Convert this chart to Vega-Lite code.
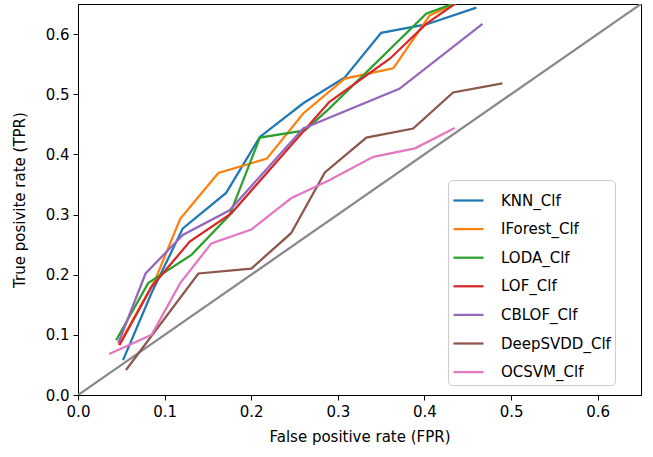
{
  "$schema": "https://vega.github.io/schema/vega-lite/v6.json",
  "autosize": {"type": "none"},
  "padding": {"left": 78, "top": 4, "right": 12, "bottom": 62},
  "width": 563,
  "height": 391,
  "background": "white",
  "config": {
    "font": "DejaVu Sans",
    "view": {"stroke": "black", "strokeWidth": 1},
    "axis": {
      "grid": false,
      "domainColor": "black",
      "tickColor": "black",
      "tickSize": 5,
      "labelFont": "DejaVu Sans",
      "labelFontSize": 15,
      "labelColor": "black",
      "labelPadding": 4,
      "labelFlush": false,
      "titleFont": "DejaVu Sans",
      "titleFontSize": 15,
      "titleFontWeight": "normal",
      "titleColor": "black"
    },
    "legend": {
      "labelFont": "DejaVu Sans",
      "labelFontSize": 15,
      "labelColor": "black"
    }
  },
  "datasets": {
    "roc": [
      {"model": "KNN_Clf", "i": 0, "fpr": 0.052, "tpr": 0.058},
      {"model": "KNN_Clf", "i": 1, "fpr": 0.085, "tpr": 0.17},
      {"model": "KNN_Clf", "i": 2, "fpr": 0.121, "tpr": 0.277},
      {"model": "KNN_Clf", "i": 3, "fpr": 0.171, "tpr": 0.336},
      {"model": "KNN_Clf", "i": 4, "fpr": 0.21, "tpr": 0.429},
      {"model": "KNN_Clf", "i": 5, "fpr": 0.26, "tpr": 0.485},
      {"model": "KNN_Clf", "i": 6, "fpr": 0.308, "tpr": 0.528},
      {"model": "KNN_Clf", "i": 7, "fpr": 0.35, "tpr": 0.602},
      {"model": "KNN_Clf", "i": 8, "fpr": 0.402, "tpr": 0.616},
      {"model": "KNN_Clf", "i": 9, "fpr": 0.46, "tpr": 0.644},

      {"model": "IForest_Clf", "i": 0, "fpr": 0.047, "tpr": 0.083},
      {"model": "IForest_Clf", "i": 1, "fpr": 0.089, "tpr": 0.191},
      {"model": "IForest_Clf", "i": 2, "fpr": 0.118, "tpr": 0.293},
      {"model": "IForest_Clf", "i": 3, "fpr": 0.162, "tpr": 0.369},
      {"model": "IForest_Clf", "i": 4, "fpr": 0.218, "tpr": 0.393},
      {"model": "IForest_Clf", "i": 5, "fpr": 0.26, "tpr": 0.468},
      {"model": "IForest_Clf", "i": 6, "fpr": 0.308, "tpr": 0.526},
      {"model": "IForest_Clf", "i": 7, "fpr": 0.364, "tpr": 0.543},
      {"model": "IForest_Clf", "i": 8, "fpr": 0.406, "tpr": 0.631},
      {"model": "IForest_Clf", "i": 9, "fpr": 0.45, "tpr": 0.66},

      {"model": "LODA_Clf", "i": 0, "fpr": 0.044, "tpr": 0.091},
      {"model": "LODA_Clf", "i": 1, "fpr": 0.081, "tpr": 0.186},
      {"model": "LODA_Clf", "i": 2, "fpr": 0.131, "tpr": 0.233},
      {"model": "LODA_Clf", "i": 3, "fpr": 0.175, "tpr": 0.299},
      {"model": "LODA_Clf", "i": 4, "fpr": 0.21, "tpr": 0.428},
      {"model": "LODA_Clf", "i": 5, "fpr": 0.262, "tpr": 0.44},
      {"model": "LODA_Clf", "i": 6, "fpr": 0.29, "tpr": 0.476},
      {"model": "LODA_Clf", "i": 7, "fpr": 0.402, "tpr": 0.634},
      {"model": "LODA_Clf", "i": 8, "fpr": 0.425, "tpr": 0.646},
      {"model": "LODA_Clf", "i": 9, "fpr": 0.45, "tpr": 0.66},

      {"model": "LOF_Clf", "i": 0, "fpr": 0.048, "tpr": 0.083},
      {"model": "LOF_Clf", "i": 1, "fpr": 0.085, "tpr": 0.18},
      {"model": "LOF_Clf", "i": 2, "fpr": 0.129, "tpr": 0.255},
      {"model": "LOF_Clf", "i": 3, "fpr": 0.177, "tpr": 0.302},
      {"model": "LOF_Clf", "i": 4, "fpr": 0.29, "tpr": 0.487},
      {"model": "LOF_Clf", "i": 5, "fpr": 0.36, "tpr": 0.559},
      {"model": "LOF_Clf", "i": 6, "fpr": 0.402, "tpr": 0.617},
      {"model": "LOF_Clf", "i": 7, "fpr": 0.445, "tpr": 0.66},

      {"model": "CBLOF_Clf", "i": 0, "fpr": 0.0465, "tpr": 0.086},
      {"model": "CBLOF_Clf", "i": 1, "fpr": 0.078, "tpr": 0.202},
      {"model": "CBLOF_Clf", "i": 2, "fpr": 0.121, "tpr": 0.266},
      {"model": "CBLOF_Clf", "i": 3, "fpr": 0.175, "tpr": 0.307},
      {"model": "CBLOF_Clf", "i": 4, "fpr": 0.26, "tpr": 0.443},
      {"model": "CBLOF_Clf", "i": 5, "fpr": 0.371, "tpr": 0.509},
      {"model": "CBLOF_Clf", "i": 6, "fpr": 0.467, "tpr": 0.617},

      {"model": "DeepSVDD_Clf", "i": 0, "fpr": 0.0554, "tpr": 0.0415},
      {"model": "DeepSVDD_Clf", "i": 1, "fpr": 0.139, "tpr": 0.202},
      {"model": "DeepSVDD_Clf", "i": 2, "fpr": 0.2, "tpr": 0.21},
      {"model": "DeepSVDD_Clf", "i": 3, "fpr": 0.246, "tpr": 0.269},
      {"model": "DeepSVDD_Clf", "i": 4, "fpr": 0.285, "tpr": 0.37},
      {"model": "DeepSVDD_Clf", "i": 5, "fpr": 0.333, "tpr": 0.428},
      {"model": "DeepSVDD_Clf", "i": 6, "fpr": 0.387, "tpr": 0.443},
      {"model": "DeepSVDD_Clf", "i": 7, "fpr": 0.433, "tpr": 0.503},
      {"model": "DeepSVDD_Clf", "i": 8, "fpr": 0.49, "tpr": 0.518},

      {"model": "OCSVM_Clf", "i": 0, "fpr": 0.036, "tpr": 0.068},
      {"model": "OCSVM_Clf", "i": 1, "fpr": 0.085, "tpr": 0.1},
      {"model": "OCSVM_Clf", "i": 2, "fpr": 0.118, "tpr": 0.186},
      {"model": "OCSVM_Clf", "i": 3, "fpr": 0.154, "tpr": 0.252},
      {"model": "OCSVM_Clf", "i": 4, "fpr": 0.2, "tpr": 0.275},
      {"model": "OCSVM_Clf", "i": 5, "fpr": 0.246, "tpr": 0.327},
      {"model": "OCSVM_Clf", "i": 6, "fpr": 0.29, "tpr": 0.357},
      {"model": "OCSVM_Clf", "i": 7, "fpr": 0.341, "tpr": 0.396},
      {"model": "OCSVM_Clf", "i": 8, "fpr": 0.389, "tpr": 0.41},
      {"model": "OCSVM_Clf", "i": 9, "fpr": 0.435, "tpr": 0.444}
    ],
    "diag": [
      {"fpr": 0, "tpr": 0, "fpr2": 0.65, "tpr2": 0.65}
    ]
  },
  "layer": [
    {
      "data": {"name": "diag"},
      "mark": {"type": "rule", "color": "#888888", "strokeWidth": 2.25, "clip": true},
      "encoding": {
        "x": {"field": "fpr", "type": "quantitative"},
        "y": {"field": "tpr", "type": "quantitative"},
        "x2": {"field": "fpr2"},
        "y2": {"field": "tpr2"}
      }
    },
    {
      "data": {"name": "roc"},
      "mark": {"type": "line", "strokeWidth": 2.25, "clip": true},
      "encoding": {
        "x": {
          "field": "fpr", "type": "quantitative",
          "scale": {"domain": [0, 0.65], "nice": false, "zero": false},
          "axis": {"title": "False positive rate (FPR)", "values": [0, 0.1, 0.2, 0.3, 0.4, 0.5, 0.6], "format": ".1f", "titlePadding": 10}
        },
        "y": {
          "field": "tpr", "type": "quantitative",
          "scale": {"domain": [0, 0.65], "nice": false, "zero": false},
          "axis": {"title": "True posivite rate (TPR)", "values": [0, 0.1, 0.2, 0.3, 0.4, 0.5, 0.6], "format": ".1f", "titlePadding": 18}
        },
        "order": {"field": "i", "type": "quantitative"},
        "color": {
          "field": "model", "type": "nominal",
          "scale": {
            "domain": ["KNN_Clf", "IForest_Clf", "LODA_Clf", "LOF_Clf", "CBLOF_Clf", "DeepSVDD_Clf", "OCSVM_Clf"],
            "range": ["#1f77b4", "#ff7f0e", "#2ca02c", "#d62728", "#9467bd", "#8c564b", "#e377c2"]
          },
          "legend": {
            "title": null,
            "orient": "none",
            "legendX": 370,
            "legendY": 176,
            "symbolType": "stroke",
            "symbolSize": 900,
            "symbolStrokeWidth": 2.25,
            "rowPadding": 3.6,
            "labelOffset": 16,
            "padding": 4,
            "strokeColor": "#cccccc",
            "fillColor": "white",
            "cornerRadius": 4
          }
        }
      }
    }
  ]
}
